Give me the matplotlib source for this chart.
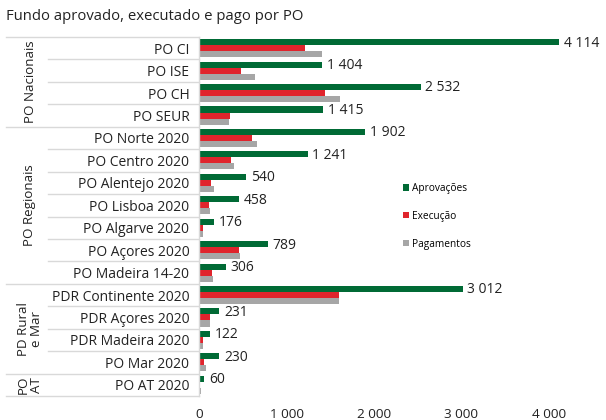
import numpy as np
import matplotlib
matplotlib.use("Agg")
import matplotlib.pyplot as plt
from matplotlib.transforms import blended_transform_factory

plt.rcParams['font.family'] = ['Open Sans', 'DejaVu Sans']

# Programas operacionais (top to bottom)
programas = ["PO CI", "PO ISE", "PO CH", "PO SEUR",
             "PO Norte 2020", "PO Centro 2020", "PO Alentejo 2020", "PO Lisboa 2020",
             "PO Algarve 2020", "PO Açores 2020", "PO Madeira 14-20",
             "PDR Continente 2020", "PDR Açores 2020", "PDR Madeira 2020", "PO Mar 2020",
             "PO AT 2020"]
aprovacoes = [4114, 1404, 2532, 1415, 1902, 1241, 540, 458, 176, 789, 306, 3012, 231, 122, 230, 60]
execucao = [1210, 476, 1444, 358, 604, 366, 137, 114, 46, 458, 146, 1600, 131, 40, 54, 14]
pagamentos = [1400, 644, 1611, 343, 662, 400, 171, 121, 50, 466, 160, 1605, 131, 40, 78, 20]

grupos = ["PO Nacionais", "PO Regionais", "PD Rural\ne Mar", "PO\nAT"]
grupo_tamanho = [4, 7, 4, 1]

series_nomes = ["Aprovações", "Execução", "Pagamentos"]
cores = ["#006a35", "#e0242c", "#a6a6a6"]
x_ticks = [0, 1000, 2000, 3000, 4000]


def fmt(v):
    return "{:,}".format(v).replace(",", " ")


W, H = 606, 420
fig = plt.figure(figsize=(W / 100, H / 100), dpi=100)
ax_left, ax_right, ax_top, ax_bottom = 199, 590, 37, 396
ax = fig.add_axes([ax_left / W, 1 - ax_bottom / H, (ax_right - ax_left) / W, (ax_bottom - ax_top) / H])

n = len(programas)
y = np.arange(n)
h = 0.27
line_color = "#d9d9d9"

for k, (vals, cor, nome) in enumerate(zip([aprovacoes, execucao, pagamentos], cores, series_nomes)):
    ax.barh(y + (k - 1) * h, vals, height=h, color=cor, label=nome)

for i, v in enumerate(aprovacoes):
    ax.text(v + 55, i - h * 0.85, fmt(v), va="center", ha="left", fontsize=10, color="#222222")

ax.set_ylim(n - 0.5, -0.5)
ax.set_xlim(0, (ax_right - ax_left) / 87.5 * 1000)
ax.set_yticks(y, programas, fontsize=10, color="#222222")
ax.set_xticks(x_ticks, [fmt(t) for t in x_ticks], fontsize=9.7, color="#222222")
ax.tick_params(axis="both", length=0)
ax.tick_params(axis="y", pad=7)
ax.tick_params(axis="x", pad=9)
for s in ["top", "right", "bottom"]:
    ax.spines[s].set_visible(False)
ax.spines["left"].set_color(line_color)
ax.spines["left"].set_linewidth(1)

# table-like row separators at the left
tr = blended_transform_factory(fig.transFigure, ax.transData)
limites = np.cumsum([0] + grupo_tamanho)
for b in range(n + 1):
    x0 = 6 if b in limites else 48
    ax.plot([x0 / W, ax_left / W], [b - 0.5, b - 0.5], transform=tr, color=line_color,
            lw=1, clip_on=False)

for g, nome in enumerate(grupos):
    centro = (limites[g] + limites[g + 1]) / 2 - 0.5
    ax.text(30 / W, centro, nome, transform=tr, rotation=90, ha="center", va="center",
            fontsize=9.6, color="#222222", linespacing=0.95, multialignment="center")

fig.text(6 / W, 1 - 17 / H, "Fundo aprovado, executado e pago por PO", fontsize=10.7,
         va="center", ha="left", color="#222222")

leg = ax.legend(loc="upper left", bbox_to_anchor=(394 / W, 1 - 174 / H), bbox_transform=fig.transFigure,
                frameon=False, fontsize=7.3, handlelength=0.6, handleheight=0.6, handletextpad=0.3,
                labelspacing=1.65)

fig.savefig("out.png", dpi=100)
